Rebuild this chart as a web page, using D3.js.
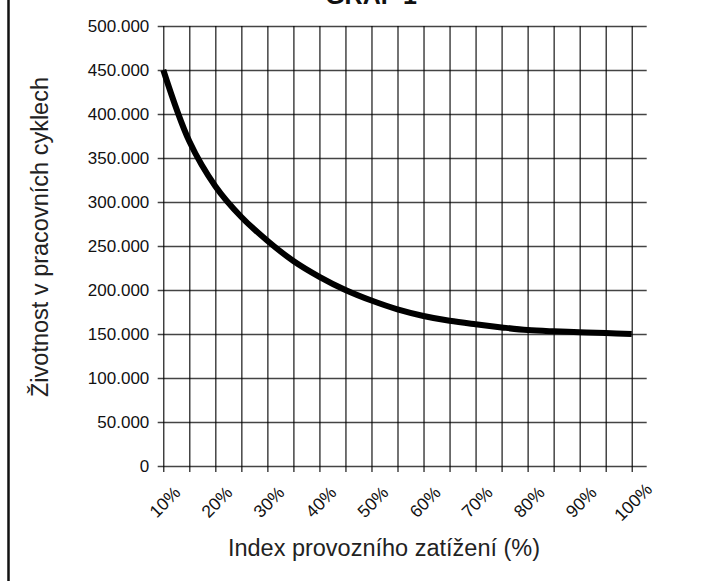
<!DOCTYPE html>
<html>
<head>
<meta charset="utf-8">
<script src="https://cdn.jsdelivr.net/npm/d3@7"></script>
<style>
  body { margin: 0; background: #fff; }
  svg { display: block; font-family: "Liberation Sans", Arial, sans-serif; }
</style>
</head>
<body>
<div id="chart"></div>
<script>
// load index categories (5 % steps) and service life
const categories = ['10%', '15%', '20%', '25%', '30%', '35%', '40%', '45%', '50%', '55%',
    '60%', '65%', '70%', '75%', '80%', '85%', '90%', '95%', '100%'];
const lifeCycles = [450000, 369000, 318000, 283000, 256000, 233000, 215000, 200000, 188000, 178000,
    170500, 165000, 161000, 157500, 154500, 153000, 152000, 151000, 150000];
const xTickLabels = ['10%', '20%', '30%', '40%', '50%', '60%', '70%', '80%', '90%', '100%'];
const yTicks = [0, 50000, 100000, 150000, 200000, 250000, 300000, 350000, 400000, 450000, 500000];

const width = 716, height = 581;
const plot = { left: 163.3, right: 631.7, top: 26, bottom: 466, extra: 15 };

const svg = d3.select('#chart')
    .append('svg')
    .attr('width', width)
    .attr('height', height);

const xScale = d3.scalePoint()
    .domain(categories)
    .range([plot.left, plot.right]);

const yScale = d3.scaleLinear()
    .domain([0, 500000])
    .range([plot.bottom, plot.top]);

const fmt = d3.formatLocale({ decimal: ',', thousands: '.', grouping: [3], currency: ['', ''] }).format(',');

// frame line on the left edge
svg.append('line')
    .attr('x1', 8.5).attr('x2', 8.5)
    .attr('y1', 0).attr('y2', height)
    .attr('stroke', '#111')
    .attr('stroke-width', 2.5);

// title (cut by the top edge)
svg.append('text')
    .attr('x', 371)
    .attr('y', 4)
    .attr('text-anchor', 'middle')
    .style('font-size', '25px')
    .style('font-weight', 'bold')
    .attr('fill', '#111')
    .text('GRAF 1');

// horizontal grid + y axis
const yAxis = d3.axisLeft(yScale)
    .tickValues(yTicks)
    .tickSize(-(plot.right - plot.left + plot.extra))
    .tickFormat(fmt);

const gy = svg.append('g')
    .attr('transform', `translate(${plot.left}, 0)`)
    .call(yAxis);
gy.select('.domain').remove();
gy.selectAll('.tick line')
    .attr('stroke', '#444')
    .attr('stroke-width', 1.3)
    .attr('x1', -5.6);
gy.selectAll('.tick text')
    .attr('x', -14)
    .attr('fill', '#111')
    .style('font-size', '17px')
    .style('font-family', '"Liberation Sans", Arial, sans-serif');

// vertical grid + x axis
const xAxis = d3.axisBottom(xScale)
    .tickSize(-(plot.bottom - plot.top))
    .tickFormat(d => xTickLabels.includes(d) ? d : '');

const gx = svg.append('g')
    .attr('transform', `translate(0, ${plot.bottom})`)
    .call(xAxis);
gx.select('.domain').remove();
gx.selectAll('.tick line')
    .attr('stroke', '#000')
    .attr('stroke-width', 1.1)
    .attr('y1', 6);
gx.selectAll('.tick text')
    .attr('y', 0)
    .attr('dy', null)
    .attr('text-anchor', 'middle')
    .attr('dominant-baseline', 'central')
    .attr('transform', 'translate(1, 36) rotate(-45)')
    .attr('fill', '#111')
    .style('font-size', '17.5px')
    .style('font-family', '"Liberation Sans", Arial, sans-serif');

// service life curve
const line = d3.line()
    .x((d, i) => xScale(categories[i]))
    .y(d => yScale(d))
    .curve(d3.curveCatmullRom.alpha(0.5));

svg.append('path')
    .datum(lifeCycles)
    .attr('fill', 'none')
    .attr('stroke', '#000')
    .attr('stroke-width', 6)
    .attr('d', line);

// axis titles
svg.append('text')
    .attr('x', 384)
    .attr('y', 548)
    .attr('text-anchor', 'middle')
    .attr('dominant-baseline', 'central')
    .attr('fill', '#222')
    .style('font-size', '23.5px')
    .text('Index provozního zatížení (%)');

svg.append('text')
    .attr('transform', 'translate(40, 237) rotate(-90)')
    .attr('text-anchor', 'middle')
    .attr('dominant-baseline', 'central')
    .attr('fill', '#222')
    .style('font-size', '23.5px')
    .text('Životnost v pracovních cyklech');
</script>
</body>
</html>
